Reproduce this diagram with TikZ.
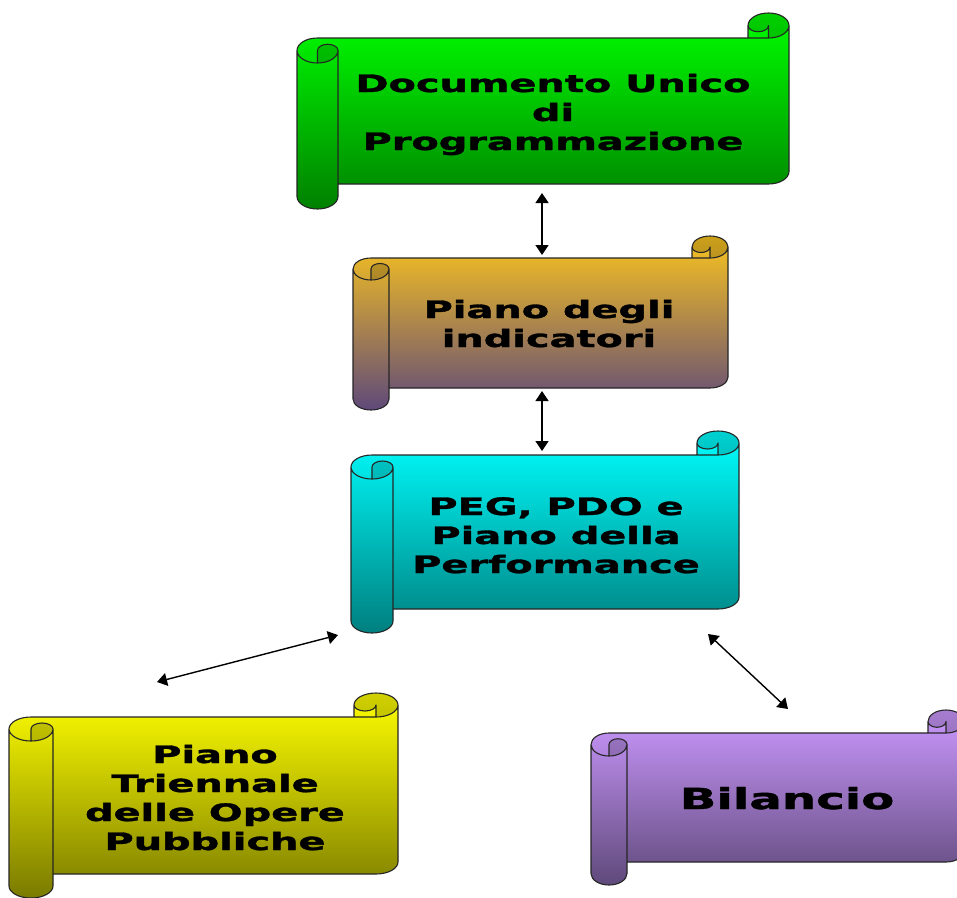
\documentclass[tikz,border=0pt]{standalone}
\usepackage{fontspec}
\usetikzlibrary{arrows.meta}
\newfontfamily\labelfont{DejaVu Sans}[BoldFeatures={FakeBold=1.2}]

\definecolor{greenTop}{HTML}{00FF00}
\definecolor{greenBot}{HTML}{008000}
\definecolor{goldTop}{HTML}{FAC41E}
\definecolor{goldBot}{HTML}{5F497A}
\definecolor{cyanTop}{HTML}{00FFFF}
\definecolor{cyanBot}{HTML}{007F7F}
\definecolor{yellowTop}{HTML}{FFFF00}
\definecolor{yellowBot}{HTML}{7A7A00}
\definecolor{lilacTop}{HTML}{CC99FF}
\definecolor{lilacBot}{HTML}{5F497A}

% Horizontal scroll: #1 left, #2 top, #3 right, #4 bottom,
% #5 roll width, #6 roll height, #7 top colour, #8 bottom colour
\newcommand{\drawscroll}[8]{%
  \pgfmathsetmacro{\sL}{#1}\pgfmathsetmacro{\sR}{#3}%
  \pgfmathsetmacro{\sa}{#5/2}\pgfmathsetmacro{\sb}{#6/2}%
  \pgfmathsetmacro{\sqa}{#5/4}\pgfmathsetmacro{\sqb}{#6/4}%
  \pgfmathsetmacro{\xc}{#1+#5}%
  \pgfmathsetmacro{\xm}{#1+#5/2}%
  \pgfmathsetmacro{\xiii}{#3-#5}%
  \pgfmathsetmacro{\xiv}{#3-#5/2}%
  \pgfmathsetmacro{\yh}{#2+#6/2}%
  \pgfmathsetmacro{\yi}{#2+#6}%
  \pgfmathsetmacro{\yiii}{#2+1.5*#6}%
  \pgfmathsetmacro{\yiv}{#2+2*#6}%
  \pgfmathsetmacro{\yv}{#4-1.5*#6}%
  \pgfmathsetmacro{\yvi}{#4-#6}%
  \pgfmathsetmacro{\yvii}{#4-#6/2}%
  % paper and rolls, shaded from top to bottom
  \shade[top color=#7,bottom color=#8]
    (\sL,\yiii) arc[start angle=180,end angle=270,x radius=\sa,y radius=\sb]
    -- (\xiii,\yi) -- (\xiii,\yh)
    arc[start angle=180,end angle=360,x radius=\sa,y radius=\sb]
    -- (\sR,\yv) arc[start angle=0,end angle=90,x radius=\sa,y radius=\sb]
    -- (\xc,\yvi) -- (\xc,\yvii)
    arc[start angle=0,end angle=180,x radius=\sa,y radius=\sb] -- cycle;
  % darker inner faces of the two rolls
  \fill[rollshadow]
    (\xiii,\yh) arc[start angle=180,end angle=360,x radius=\sa,y radius=\sb]
    arc[start angle=0,end angle=90,x radius=\sa,y radius=\sb]
    -- (\xiv,\yh) arc[start angle=0,end angle=180,x radius=\sqa,y radius=\sqb] -- cycle
    (\xm,\yiv) -- (\xm,\yiii)
    arc[start angle=180,end angle=360,x radius=\sqa,y radius=\sqb]
    arc[start angle=0,end angle=90,x radius=\sa,y radius=\sb] -- cycle;
  % outline and curls
  \draw[scrollline]
    (\sL,\yiii) arc[start angle=180,end angle=270,x radius=\sa,y radius=\sb]
    -- (\xiii,\yi) -- (\xiii,\yh)
    arc[start angle=180,end angle=360,x radius=\sa,y radius=\sb]
    -- (\sR,\yv) arc[start angle=0,end angle=90,x radius=\sa,y radius=\sb]
    -- (\xc,\yvi) -- (\xc,\yvii)
    arc[start angle=0,end angle=180,x radius=\sa,y radius=\sb] -- cycle
    (\xiii,\yi) -- (\xiv,\yi) arc[start angle=90,end angle=0,x radius=\sa,y radius=\sb]
    (\xiv,\yi) -- (\xiv,\yh) arc[start angle=0,end angle=180,x radius=\sqa,y radius=\sqb]
    (\xm,\yiv) -- (\xm,\yiii)
    arc[start angle=180,end angle=360,x radius=\sqa,y radius=\sqb]
    arc[start angle=0,end angle=180,x radius=\sa,y radius=\sb]
    (\xc,\yiii) -- (\xc,\yvi);
}

\tikzset{
  scrollline/.style={draw=black!85,line width=1.1pt,line join=round},
  rollshadow/.style={fill=black,fill opacity=0.18},
  scrolltext/.style={font=\labelfont\bfseries\fontsize{24}{29}\selectfont,
    align=center,anchor=base,xscale=1.66,transform shape,inner sep=0pt},
  link/.style={line width=1.4pt,
    {Triangle[length=10pt,width=13pt]}-{Triangle[length=10pt,width=13pt]}},
}

\begin{document}
\begin{tikzpicture}[x=1pt,y=-1pt]
  \useasboundingbox (0,0) rectangle (957,897);
  \fill[white] (0,0) rectangle (957,897);
  \clip (0,0) rectangle (957,897);

  % scrolls
  \drawscroll{297}{13}{789}{209}{41}{25}{greenTop}{greenBot}
  \drawscroll{353}{236}{728}{410}{36}{22}{goldTop}{goldBot}
  \drawscroll{351}{431}{739}{633}{42}{24}{cyanTop}{cyanBot}
  \drawscroll{9}{693}{398}{898}{44}{24}{yellowTop}{yellowBot}
  \drawscroll{591}{710}{964}{885}{36}{23}{lilacTop}{lilacBot}

  % labels (placed by the baseline of their last line)
  \node[scrolltext] (dup) at (553,150) {Documento Unico\\di\\Programmazione};
  \node[scrolltext] (ind) at (549,347) {Piano degli\\indicatori};
  \node[scrolltext] (peg) at (556,573) {PEG, PDO e\\Piano della\\Performance};
  \node[scrolltext] (opp) at (215,850) {Piano\\Triennale\\delle Opere\\Pubbliche};
  \node[scrolltext,font=\labelfont\bfseries\fontsize{29}{34}\selectfont] (bil) at (787,809) {Bilancio};

  % connector ends
  \coordinate (dupS) at (542,193);
  \coordinate (indN) at (542,255);
  \coordinate (indS) at (542,391);
  \coordinate (pegN) at (542,451);
  \coordinate (pegW) at (338,635);
  \coordinate (oppN) at (157,682);
  \coordinate (pegE) at (708,634);
  \coordinate (bilN) at (788,709);

  \draw[link] (dupS) -- (indN);
  \draw[link] (indS) -- (pegN);
  \draw[link] (pegW) -- (oppN);
  \draw[link] (pegE) -- (bilN);
\end{tikzpicture}
\end{document}
